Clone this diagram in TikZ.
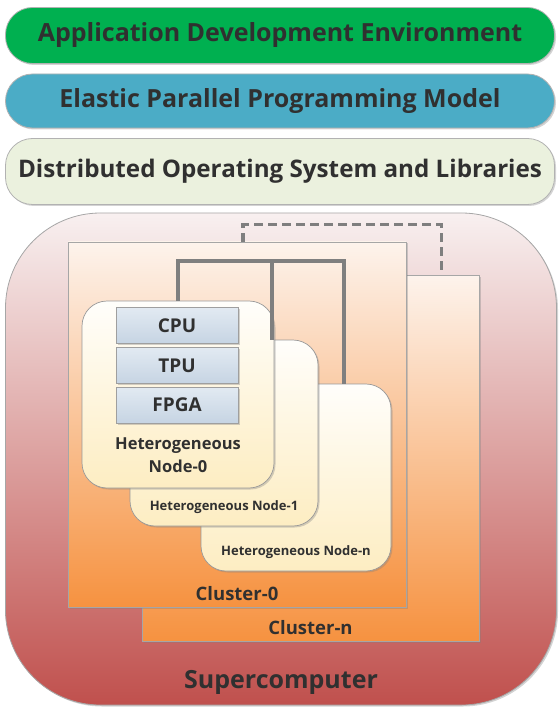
\documentclass[tikz,border=0pt]{standalone}
\usepackage{fontspec}
\setmainfont{Open Sans}
\usetikzlibrary{positioning,shadows,calc}
\definecolor{txtgray}{HTML}{303030}
\definecolor{appgreen}{HTML}{00B050}
\definecolor{modelblue}{HTML}{4BACC6}
\definecolor{oscream}{HTML}{EBF1DE}
\definecolor{suptop}{HTML}{F8F0F0}
\definecolor{supbot}{HTML}{C0504D}
\definecolor{clustop}{HTML}{FDF3EC}
\definecolor{clusbot}{HTML}{F69240}
\definecolor{hettop}{HTML}{FFFEFB}
\definecolor{hetbot}{HTML}{FDEDC2}
\definecolor{chiptop}{HTML}{E2EAF2}
\definecolor{chipbot}{HTML}{C6D4E3}
\definecolor{linkgray}{HTML}{7F7F7F}
\tikzset{
  softshadow/.style={drop shadow={shadow xshift=1.5pt,shadow yshift=-1.5pt,opacity=0.35}},
  layer/.style={draw=gray!60,line width=0.8pt,rounded corners=27pt,
    minimum width=549pt,text=txtgray,font=\bfseries\fontsize{25}{30}\selectfont,softshadow},
  super/.style={draw=gray!70,line width=0.8pt,rounded corners=95pt,
    top color=suptop,bottom color=supbot,softshadow},
  cluster/.style={draw=gray!70,line width=0.6pt,top color=clustop,bottom color=clusbot,softshadow},
  hetnode/.style={draw=gray!80,line width=0.7pt,rounded corners=25pt,
    top color=hettop,bottom color=hetbot,softshadow},
  chip/.style={draw=gray!75,line width=0.6pt,top color=chiptop,bottom color=chipbot,
    minimum width=122pt,minimum height=36pt,text=txtgray,
    font=\bfseries\fontsize{19}{22}\selectfont,softshadow},
  caption/.style={text=txtgray,font=\bfseries,inner sep=1pt,align=center},
  link/.style={draw=linkgray,line width=3.4pt},
  dashlink/.style={link,dash pattern=on 9pt off 5pt}
}
\begin{document}
\begin{tikzpicture}[x=1pt,y=-1pt]
\useasboundingbox (0,0) rectangle (558,708);
% software layers
\node[layer,fill=appgreen,minimum height=56pt] (app) at (280,35.5) {Application Development Environment};
\node[layer,fill=modelblue,minimum height=54pt] (model) at (280,101) {Elastic Parallel Programming Model};
\node[layer,fill=oscream,minimum height=66pt,font=\bfseries\fontsize{24.2}{30}\selectfont] (os) at (280,171.5) {Distributed Operating System and Libraries};

% hardware
\node[super,minimum width=551pt,minimum height=492pt] (sc) at (281,459) {};
\node[caption,font=\bfseries\fontsize{25}{30}\selectfont,above=10pt of sc.south] (sclbl) {Supercomputer};

\node[cluster,minimum width=337pt,minimum height=366pt] (cn) at (310.5,458) {};
\node[caption,font=\bfseries\fontsize{18.5}{22}\selectfont,above=5pt of cn.south] (cnlbl) {Cluster-n};
\node[cluster,minimum width=338pt,minimum height=365pt] (c0) at (237,424.5) {};
\node[caption,font=\bfseries\fontsize{18.5}{22}\selectfont,above=5pt of c0.south] (c0lbl) {Cluster-0};

\draw[dashlink] ([xshift=6pt]c0.north) -- ++(0,-17) -| ([xshift=-38pt]cn.north east);

\node[hetnode,minimum width=190pt,minimum height=187pt] (nn) at (296,477.5) {};
\node[caption,font=\bfseries\fontsize{13}{16}\selectfont,above=12pt of nn.south] (nnlbl) {Heterogeneous Node-n};
\node[hetnode,minimum width=188pt,minimum height=186pt] (n1) at (224,433) {};
\node[caption,font=\bfseries\fontsize{13}{16}\selectfont,above=12pt of n1.south] (n1lbl) {Heterogeneous Node-1};
\node[hetnode,minimum width=192pt,minimum height=187pt] (n0) at (178,394.5) {};
\node[caption,font=\bfseries\fontsize{16.5}{23}\selectfont,above=14pt of n0.south] (n0lbl) {Heterogeneous\\Node-0};

% interconnect inside cluster-0
\coordinate (bus) at (0,261);
\draw[link,line join=miter] (n0.north) -- (n0.north |- bus) -- ([xshift=48pt]nn.north |- bus) -- ([xshift=48pt]nn.north);
\draw[link] ([xshift=48pt]n1.north |- bus) -- ([xshift=48pt]n1.north);

% processing units of node-0
\node[chip] (cpu) at (177,325.5) {CPU};
\node[chip] (tpu) at (177,365.5) {TPU};
\node[chip] (fpga) at (177,405) {FPGA};
\end{tikzpicture}
\end{document}
